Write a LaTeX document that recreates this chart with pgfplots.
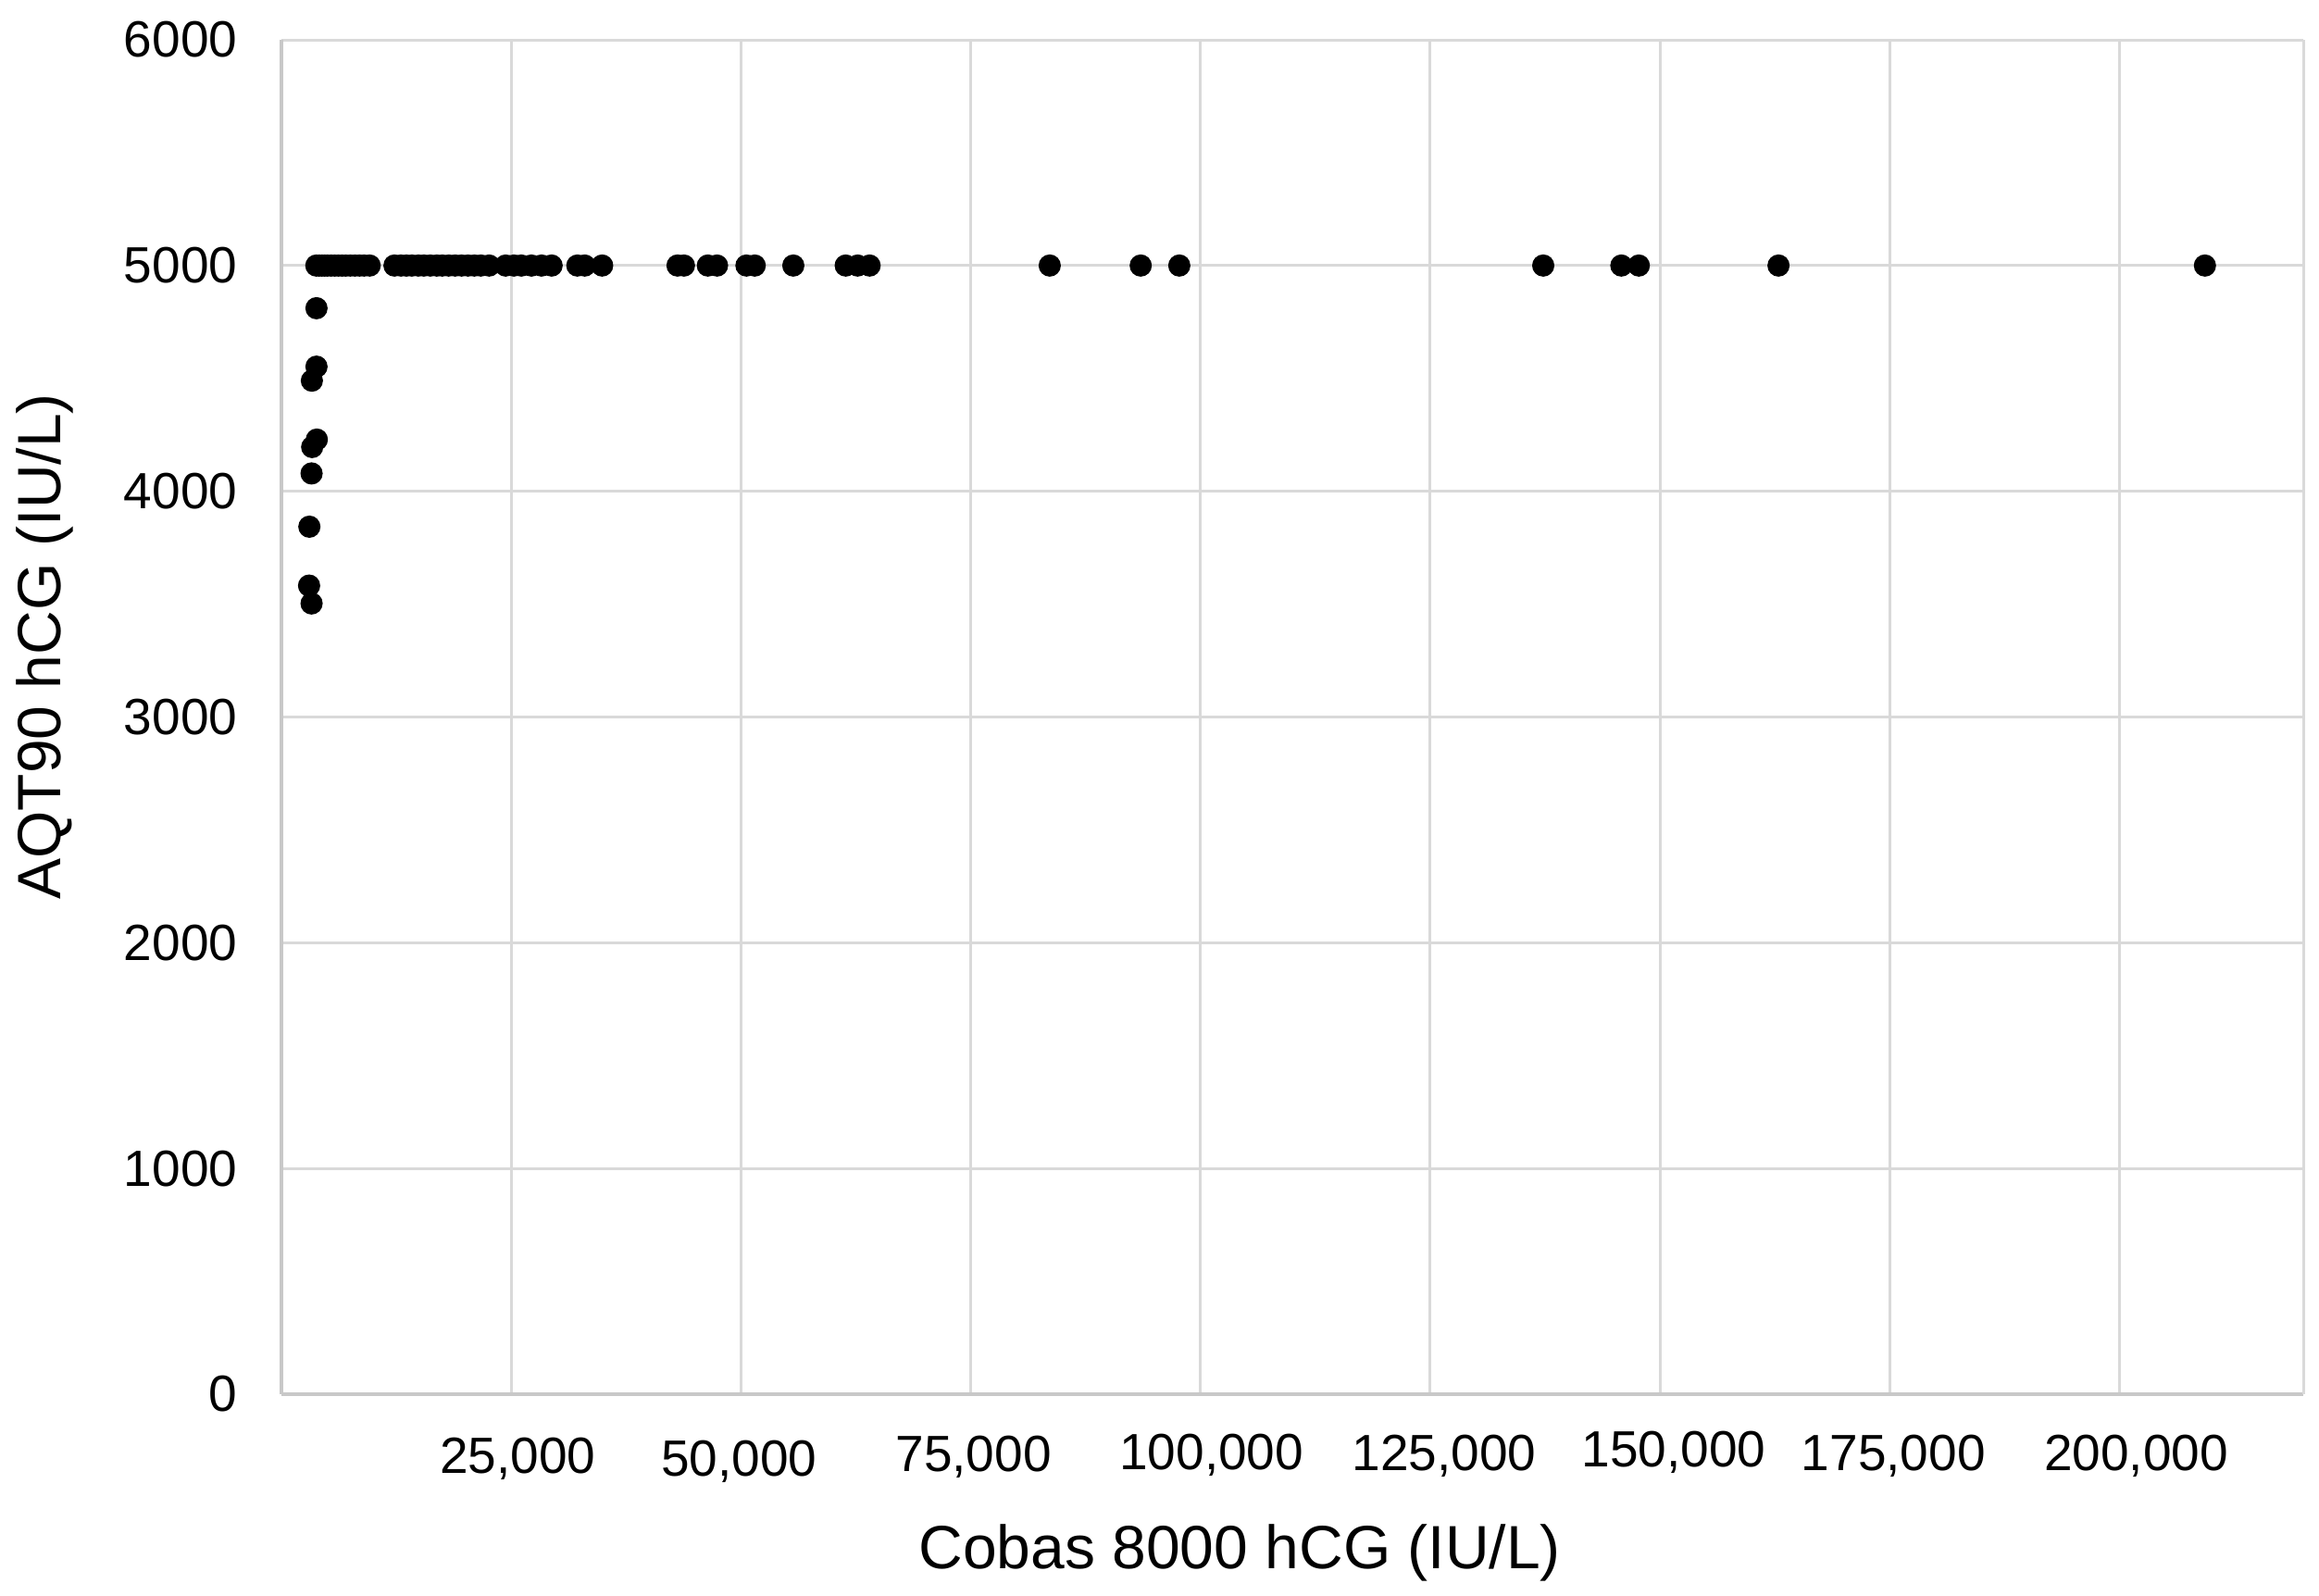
\documentclass[border=0pt]{standalone}
\usepackage{fontspec}
\setmainfont{Liberation Sans}
\usepackage{pgfplots}
\pgfplotsset{compat=1.18}
\definecolor{gridgray}{HTML}{D9D9D9}
\definecolor{axisgray}{HTML}{C8C8C8}

% tick labels in the figure sit a bit off their gridlines
\newcommand{\tl}[3]{\hspace*{#1pt}\raisebox{#2pt}[\height][\depth]{#3}}

% Cobas 8000 vs AQT90 hCG
\pgfplotstableread{
x y
3815 4811
3815 4552
3313 4490
3850 4229
3345 4196
3280 4079
3040 3843
3010 3582
3280 3503
3800 5000
4100 5000
4400 5000
4700 5000
5000 5000
5400 5000
5800 5000
6200 5000
6600 5000
7000 5000
7500 5000
8000 5000
8500 5000
9000 5000
9600 5000
12300 5000
13000 5000
13600 5000
14200 5000
14900 5000
15500 5000
16200 5000
16900 5000
17500 5000
18200 5000
18900 5000
19600 5000
20300 5000
21000 5000
21700 5000
22600 5000
24400 5000
25300 5000
26100 5000
27200 5000
28300 5000
29400 5000
32200 5000
33000 5000
34900 5000
43100 5000
43800 5000
46400 5000
47400 5000
50600 5000
51500 5000
55700 5000
61400 5000
62700 5000
64000 5000
83600 5000
93500 5000
97700 5000
137300 5000
145800 5000
147700 5000
162900 5000
209300 5000
}\hcgdata

\begin{document}
\begin{tikzpicture}
\begin{axis}[
  at={(0pt,0pt)}, anchor=south west,
  scale only axis,
  width=436.8pt, height=292.6pt,
  xmin=0, xmax=220000,
  ymin=0, ymax=6000,
  axis x line*=bottom, axis y line*=left,
  axis line style={axisgray, line width=0.9pt},
  xtick={25000,50000,75000,100000,125000,150000,175000,200000},
  xticklabels={{\tl{2.8}{-0.6}{25,000}},{\tl{-0.8}{-1.3}{50,000}},{\tl{1.2}{-0.3}{75,000}},
    {\tl{4.8}{0.2}{100,000}},{\tl{6.0}{0}{125,000}},{\tl{6.0}{0.8}{150,000}},
    {\tl{1.6}{0}{175,000}},{\tl{7.2}{0}{200,000}}},
  extra x ticks={220000}, extra x tick labels={},
  extra x tick style={grid=major},
  ytick={0,1000,...,6000},
  scaled x ticks=false, scaled y ticks=false,
  /pgf/number format/fixed,
  /pgf/number format/1000 sep={},
  /pgf/number format/assume math mode=true,
  major tick length=0pt,
  grid=major,
  major grid style={gridgray, line width=0.6pt},
  tick label style={font=\fontsize{11}{13}\selectfont, text=black},
  xticklabel style={yshift=-5.2pt},
  yticklabel style={xshift=-6pt},
  xlabel={Cobas 8000 hCG (IU/L)},
  ylabel={AQT90 hCG (IU/L)},
  label style={font=\fontsize{13.2}{15}\selectfont},
  xlabel style={at={(rel axis cs:0.474,0)}, anchor=center, yshift=-34.3pt},
  ylabel style={at={(axis description cs:-0.117,0.552)}, anchor=center},
  clip=false,
]
\addplot[only marks, mark=*, mark size=2.2pt, mark options={fill=black, draw=black}]
  table[x=x, y=y] {\hcgdata};
\end{axis}
\pgfresetboundingbox
\path[use as bounding box] (-60.8pt,-43.6pt) rectangle (440.2pt,301.2pt);
\end{tikzpicture}
\end{document}
